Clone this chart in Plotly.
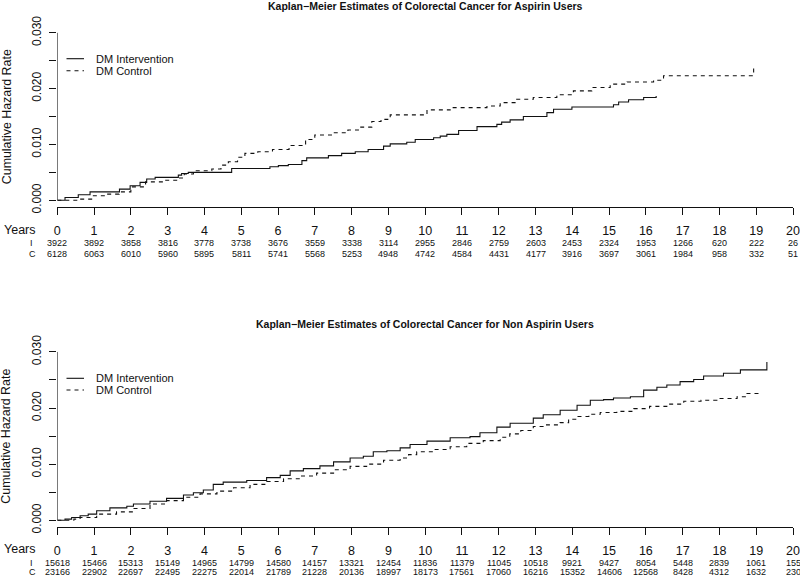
import plotly.graph_objects as go

# ---------------- data ----------------
years = list(range(0, 21))

# Aspirin users
asp_int_t = [0, 0.21, 0.57, 0.89, 1.69, 1.98, 2.25, 2.43, 2.66, 3.29, 3.38, 3.56, 4.74, 5.78, 6.01, 6.28,
             6.65, 6.78, 7.37, 7.73, 8.10, 8.45, 8.87, 9.05, 9.50, 9.73, 10.23, 10.41, 10.59, 10.91, 11.41,
             11.95, 12.08, 12.31, 12.67, 13.31, 13.49, 13.99, 15.12, 15.26, 15.53, 15.94, 16.28, 16.28]
asp_int_y = [0, 0.0005, 0.0010, 0.0015, 0.0020, 0.0026, 0.0032, 0.0038, 0.0041, 0.0045, 0.0048, 0.0050,
             0.0057, 0.0060, 0.0062, 0.0064, 0.0071, 0.0076, 0.0080, 0.0084, 0.0087, 0.0091, 0.0097, 0.0101,
             0.0104, 0.0109, 0.0112, 0.0115, 0.0118, 0.0125, 0.0132, 0.0136, 0.0140, 0.0144, 0.0150, 0.0157,
             0.0163, 0.0167, 0.0171, 0.0176, 0.0180, 0.0184, 0.0184, 0.0187]

asp_ctl_t = [0, 0.62, 0.96, 1.35, 1.68, 2.0, 2.4, 2.9, 3.28, 3.45, 3.7, 4.2, 4.45, 4.65, 4.9, 5.1, 5.45,
             5.85, 6.3, 6.75, 7.0, 7.5, 7.9, 8.25, 8.55, 8.8, 9.05, 10.05, 10.68, 11.68, 12.04, 12.49, 12.94,
             13.58, 14.03, 14.53, 15.03, 15.49, 16.21, 16.48, 18.93, 18.93]
asp_ctl_y = [0, 0.0002, 0.0008, 0.0011, 0.0015, 0.0024, 0.0033, 0.0036, 0.0040, 0.0047, 0.0053, 0.0056,
             0.0063, 0.0069, 0.0077, 0.0084, 0.0087, 0.0091, 0.0098, 0.0109, 0.0117, 0.0121, 0.0126, 0.0131,
             0.0141, 0.0145, 0.0153, 0.0162, 0.0166, 0.0169, 0.0175, 0.0181, 0.0184, 0.0189, 0.0196, 0.0202,
             0.0208, 0.0212, 0.0215, 0.0223, 0.0223, 0.0240]

asp_risk_i = [3922, 3892, 3858, 3816, 3778, 3738, 3676, 3559, 3338, 3114, 2955, 2846, 2759, 2603, 2453,
              2324, 1953, 1266, 620, 222, 26]
asp_risk_c = [6128, 6063, 6010, 5960, 5895, 5811, 5741, 5568, 5253, 4948, 4742, 4584, 4431, 4177, 3916,
              3697, 3061, 1984, 958, 332, 51]

# Non aspirin users
non_int_t = [0, 0.21, 0.39, 0.62, 0.84, 1.07, 1.43, 1.89, 2.07, 2.52, 2.97, 3.43, 3.70, 3.97, 4.24, 4.51,
             5.15, 5.69, 6.06, 6.33, 6.69, 7.14, 7.51, 7.96, 8.32, 8.59, 8.96, 9.32, 9.59, 10.05, 10.68,
             11.22, 11.49, 11.95, 12.31, 12.94, 13.21, 13.67, 14.13, 14.49, 14.85, 15.12, 15.58, 15.94,
             16.30, 16.57, 16.93, 17.30, 17.57, 18.11, 18.57, 19.29, 19.29]
non_int_y = [0, 0.0002, 0.0005, 0.0008, 0.0011, 0.0017, 0.0022, 0.0025, 0.0029, 0.0034, 0.0039, 0.0045,
             0.0049, 0.0054, 0.0064, 0.0068, 0.0071, 0.0076, 0.0080, 0.0088, 0.0092, 0.0097, 0.0104, 0.0111,
             0.0114, 0.0122, 0.0124, 0.0129, 0.0135, 0.0141, 0.0147, 0.0149, 0.0156, 0.0166, 0.0173, 0.0182,
             0.0188, 0.0196, 0.0205, 0.0214, 0.0215, 0.0218, 0.0220, 0.0232, 0.0237, 0.0241, 0.0247, 0.0251,
             0.0257, 0.0262, 0.0268, 0.0268, 0.0282]

non_ctl_t = [0, 0.45, 0.62, 1.07, 1.61, 2.07, 2.52, 2.97, 3.43, 3.88, 4.34, 4.79, 5.24, 5.69, 6.15, 6.60,
             7.05, 7.51, 7.96, 8.41, 8.87, 9.32, 9.55, 9.77, 10.23, 10.68, 11.13, 11.58, 12.04, 12.30, 12.60,
             12.94, 13.30, 13.67, 13.90, 14.13, 14.45, 14.76, 15.21, 15.67, 16.10, 16.57, 17.03, 17.50,
             17.93, 18.48, 18.75, 19.16]
non_ctl_y = [0, 0.0002, 0.0005, 0.0011, 0.0015, 0.0021, 0.0029, 0.0035, 0.0041, 0.0047, 0.0052, 0.0058,
             0.0064, 0.0069, 0.0074, 0.0079, 0.0084, 0.0090, 0.0096, 0.0100, 0.0107, 0.0111, 0.0117, 0.0122,
             0.0126, 0.0131, 0.0137, 0.0142, 0.0148, 0.0154, 0.0160, 0.0167, 0.0170, 0.0174, 0.0180, 0.0185,
             0.0189, 0.0192, 0.0194, 0.0199, 0.0203, 0.0207, 0.0212, 0.0214, 0.0217, 0.0220, 0.0226, 0.0226]

non_risk_i = [15618, 15466, 15313, 15149, 14965, 14799, 14580, 14157, 13321, 12454, 11836, 11379, 11045,
              10518, 9921, 9427, 8054, 5448, 2839, 1061, 155]
non_risk_c = [23166, 22902, 22697, 22495, 22275, 22014, 21789, 21228, 20136, 18997, 18173, 17561, 17060,
              16216, 15352, 14606, 12568, 8428, 4312, 1632, 230]

titles = ["Kaplan\u2212Meier Estimates of Colorectal Cancer for Aspirin Users",
          "Kaplan\u2212Meier Estimates of Colorectal Cancer for Non Aspirin Users"]
legend_labels = ["DM Intervention", "DM Control"]
ytick_vals = [0, 0.005, 0.010, 0.015, 0.020, 0.025, 0.030]
ytick_text = ["0.000", "", "0.010", "", "0.020", "", "0.030"]

# ---------------- layout helpers ----------------
W, H = 800, 577
FONT = "Liberation Sans, Arial, Helvetica, sans-serif"
INK = "#111111"


def px(x):
    return x / W


def py(y):
    return 1 - y / H


panels = [
    dict(xa="x", ya="y", ints=(asp_int_t, asp_int_y), ctls=(asp_ctl_t, asp_ctl_y),
         ri=asp_risk_i, rc=asp_risk_c, title=titles[0],
         dom=(py(206.7), py(26.1)), rng=[-0.00115, 0.0312],
         title_y=5.5, years_y=230.5, i_y=242.7, c_y=254.2, leg_y=(58.7, 70.7), ytitle_y=116.7),
    dict(xa="x2", ya="y2", ints=(non_int_t, non_int_y), ctls=(non_ctl_t, non_ctl_y),
         ri=non_risk_i, rc=non_risk_c, title=titles[1],
         dom=(py(527.0), py(345.2)), rng=[-0.0012, 0.0312],
         title_y=323.5, years_y=549.0, i_y=562.5, c_y=572.3, leg_y=(378.3, 390.0), ytitle_y=436.2),
]

fig = go.Figure()
annotations = []
shapes = []
layout_axes = {}
xdom = [px(57.3), px(793.0)]

for k, p in enumerate(panels):
    fig.add_trace(go.Scatter(x=p["ints"][0], y=p["ints"][1], mode="lines", line_shape="hv",
                             line=dict(color=INK, width=1.1), xaxis=p["xa"], yaxis=p["ya"],
                             showlegend=False, hoverinfo="skip"))
    fig.add_trace(go.Scatter(x=p["ctls"][0], y=p["ctls"][1], mode="lines", line_shape="hv",
                             line=dict(color=INK, width=1.1, dash="4px,4px"), xaxis=p["xa"],
                             yaxis=p["ya"], showlegend=False, hoverinfo="skip"))
    sfx = "" if k == 0 else "2"
    layout_axes["xaxis" + sfx] = dict(
        domain=xdom, range=[0, 20], anchor=p["ya"], tickvals=years,
        ticktext=[str(v) for v in years], ticks="outside", ticklen=7, tickcolor=INK, tickwidth=1,
        showline=True, linecolor=INK, linewidth=1, showgrid=False, zeroline=False,
        tickfont=dict(family=FONT, size=12.5, color=INK), ticklabelstandoff=5, automargin=False)
    layout_axes["yaxis" + sfx] = dict(
        domain=list(p["dom"]), range=p["rng"], anchor=p["xa"], tickvals=ytick_vals,
        ticktext=ytick_text, tickangle=-90, ticks="outside", ticklen=7, tickcolor=INK, tickwidth=1,
        showline=False, showgrid=False, zeroline=False,
        tickfont=dict(family=FONT, size=12, color=INK), ticklabelstandoff=4, automargin=False)
    # y axis line from 0 to 0.030 only (R style)
    shapes.append(dict(type="line", xref=p["xa"], yref=p["ya"], x0=0, x1=0, y0=0, y1=0.030,
                       line=dict(color=INK, width=1)))
    # title
    annotations.append(dict(text="<b>" + p["title"] + "</b>", x=px(425.2), y=py(p["title_y"]),
                            xref="paper", yref="paper", showarrow=False, xanchor="center",
                            yanchor="middle", font=dict(family=FONT, size=10.5, color=INK)))
    # y title
    annotations.append(dict(text="Cumulative Hazard Rate", x=px(6.5), y=py(p["ytitle_y"]),
                            xref="paper", yref="paper", showarrow=False, textangle=-90,
                            xanchor="center", yanchor="middle",
                            font=dict(family=FONT, size=12.4, color=INK)))
    # legend
    for j, (lab, dash) in enumerate(zip(legend_labels, ["solid", "4px,4px"])):
        ly = p["leg_y"][j]
        shapes.append(dict(type="line", xref="paper", yref="paper", x0=px(66.5), x1=px(84),
                           y0=py(ly), y1=py(ly), line=dict(color=INK, width=1.1, dash=dash)))
        annotations.append(dict(text=lab, x=px(94.3), y=py(ly), xref="paper", yref="paper",
                                showarrow=False, xanchor="left", yanchor="middle",
                                font=dict(family=FONT, size=11, color=INK)))
    # numbers at risk
    annotations.append(dict(text="Years", x=px(20), y=py(p["years_y"]), xref="paper", yref="paper",
                            showarrow=False, xanchor="center", yanchor="middle",
                            font=dict(family=FONT, size=12.5, color=INK)))
    annotations.append(dict(text="I", x=px(31), y=py(p["i_y"]), xref="paper", yref="paper",
                            showarrow=False, xanchor="center", yanchor="middle",
                            font=dict(family=FONT, size=9, color=INK)))
    annotations.append(dict(text="C", x=px(32.5), y=py(p["c_y"]), xref="paper", yref="paper",
                            showarrow=False, xanchor="center", yanchor="middle",
                            font=dict(family=FONT, size=9, color=INK)))
    for yr, ni, nc in zip(years, p["ri"], p["rc"]):
        annotations.append(dict(text=str(ni), x=yr, y=py(p["i_y"]), xref=p["xa"], yref="paper",
                                showarrow=False, xanchor="center", yanchor="middle",
                                font=dict(family=FONT, size=9, color=INK)))
        annotations.append(dict(text=str(nc), x=yr, y=py(p["c_y"]), xref=p["xa"], yref="paper",
                                showarrow=False, xanchor="center", yanchor="middle",
                                font=dict(family=FONT, size=9, color=INK)))

fig.update_layout(
    width=W, height=H, margin=dict(l=0, r=0, t=0, b=0),
    paper_bgcolor="white", plot_bgcolor="white", showlegend=False,
    annotations=annotations, shapes=shapes, **layout_axes)

fig.write_html("out.html", config={"displayModeBar": False, "staticPlot": True},
               post_script="document.body.style.margin='0';document.body.style.padding='0';"
                           "document.documentElement.style.overflow='hidden';")
